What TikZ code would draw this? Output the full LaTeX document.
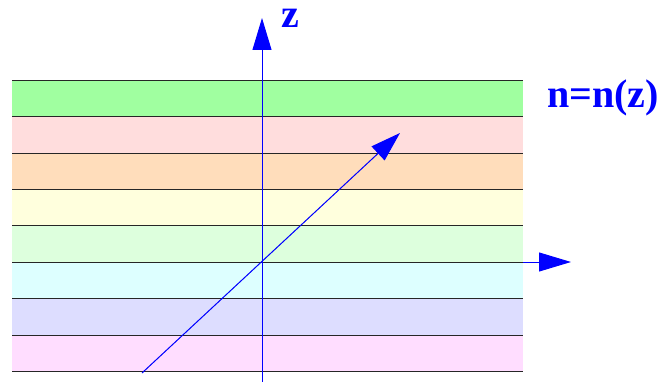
\documentclass[tikz,border=0pt]{standalone}
\usepackage{fontspec}
\setmainfont{Liberation Serif}
\usetikzlibrary{arrows.meta}
\definecolor{L1}{HTML}{A0FFA0}
\definecolor{L2}{HTML}{FFDDDD}
\definecolor{L3}{HTML}{FFDDBB}
\definecolor{L4}{HTML}{FFFFDD}
\definecolor{L5}{HTML}{DDFFDD}
\definecolor{L6}{HTML}{DDFFFF}
\definecolor{L7}{HTML}{DDDDFF}
\definecolor{L8}{HTML}{FFDDFF}
\definecolor{axblue}{RGB}{0,0,255}
\tikzset{
  axis/.style={draw=axblue, line width=1pt, -{Triangle[length=32pt,width=19pt]}, fill=axblue},
  ray/.style={draw=axblue, line width=1pt, -{Triangle[length=30pt,width=19pt]}, fill=axblue},
  layerline/.style={draw=black!85, line width=1pt},
  lbl/.style={text=axblue, font=\fontsize{40}{40}\selectfont\bfseries, inner sep=0pt}
}
\begin{document}
\begin{tikzpicture}[x=1pt,y=-1pt]
\useasboundingbox (0,0) rectangle (661,382);
% layers
\foreach \c [count=\i from 0] in {L1,L2,L3,L4,L5,L6,L7,L8} {
  \fill[\c] (12,{80.3+36.4*\i}) rectangle (523,{80.3+36.4*(\i+1)});
}
% coordinates
\coordinate (zb) at (262,382);
\coordinate (zt) at (262,18);
\coordinate (o) at (262,262);
\coordinate (xs) at (523,262);
\coordinate (xt) at (571,262);
\coordinate (rs) at (142,373);
\coordinate (rt) at (400,133);
% axes under the layer lines
\draw[axis] (zb) -- (zt);
\draw[axblue, line width=1pt] (o) -- (xs);
\draw[axis] (xs) -- (xt);
% layer boundaries
\foreach \i in {0,...,8} {
  \draw[layerline] (12,{80.3+36.4*\i}) -- (523,{80.3+36.4*\i});
}
% redraw vertical axis line over layers
\draw[axblue, line width=1pt] (zb) -- (262,52);
% ray
\draw[ray] (rs) -- (rt);
% labels
\node[lbl, anchor=base west] (zl) at (281,28) {z};
\node[lbl, anchor=base west] (nl) at (547,108) {n=n(z)};
\end{tikzpicture}
\end{document}
